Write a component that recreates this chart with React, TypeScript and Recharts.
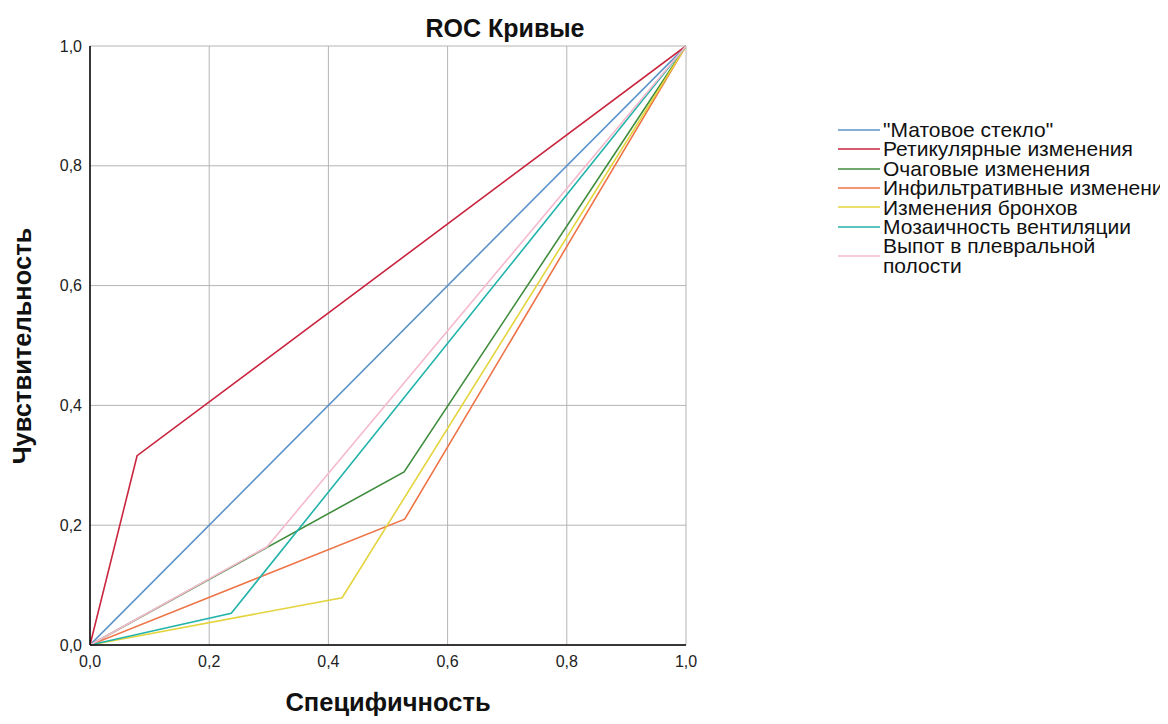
import React from 'react';
import { LineChart, Line, XAxis, YAxis, CartesianGrid, Legend } from 'recharts';

const seriesNames = [
  '"Матовое стекло"',
  'Ретикулярные изменения',
  'Очаговые изменения',
  'Инфильтративные изменения',
  'Изменения бронхов',
  'Мозаичность вентиляции',
  'Выпот в плевральной полости',
];

const seriesColors = ['#5b93c9', '#c9253f', '#3f8c3c', '#ee7346', '#e4d43c', '#22b3aa', '#f6b9cd'];

// ROC points: x = 1 - специфичность axis value, y = чувствительность
const matovoe = [{ x: 0, y: 0 }, { x: 1, y: 1 }];
const retikul = [{ x: 0, y: 0 }, { x: 0.079, y: 0.316 }, { x: 1, y: 1 }];
const ochag = [{ x: 0, y: 0 }, { x: 0.527, y: 0.289 }, { x: 1, y: 1 }];
const infiltr = [{ x: 0, y: 0 }, { x: 0.528, y: 0.21 }, { x: 1, y: 1 }];
const bronh = [{ x: 0, y: 0 }, { x: 0.423, y: 0.079 }, { x: 1, y: 1 }];
const mozaik = [{ x: 0, y: 0 }, { x: 0.237, y: 0.053 }, { x: 1, y: 1 }];
const vypot = [{ x: 0, y: 0 }, { x: 0.297, y: 0.164 }, { x: 1, y: 1 }];

const seriesData = [matovoe, retikul, ochag, infiltr, bronh, mozaik, vypot];

const ticks = [0, 0.2, 0.4, 0.6, 0.8, 1.0];
const fmt = (v: number) => v.toFixed(1).replace('.', ',');

const FONT = "Arial, 'Liberation Sans', sans-serif";

const LegendContent = () => (
  <div style={{ fontFamily: FONT, fontSize: 21, lineHeight: '19.4px', color: '#111' }}>
    {seriesNames.map((name, i) => {
      const wrap = i === seriesNames.length - 1;
      return (
        <div key={name} style={{ display: 'flex', alignItems: 'center' }}>
          <svg width={42} height={4} style={{ marginRight: 3, flex: 'none', display: 'block' }}>
            <line x1={0} y1={2} x2={42} y2={2} stroke={seriesColors[i]} strokeWidth={1.5} />
          </svg>
          <div style={{ whiteSpace: wrap ? 'normal' : 'nowrap', maxWidth: wrap ? 240 : undefined }}>{name}</div>
        </div>
      );
    })}
  </div>
);

export default function App() {
  return (
    <div style={{ position: 'relative', margin: -8, width: 1168, height: 724, overflow: 'hidden', background: '#fff' }}>
      <div style={{ position: 'absolute', left: 505, top: 14, transform: 'translateX(-50%)', fontFamily: FONT, fontWeight: 'bold', fontSize: 25, lineHeight: '28px', color: '#111', whiteSpace: 'nowrap' }}>
        ROC Кривые
      </div>
      <div style={{ position: 'absolute', left: 388, top: 688, transform: 'translateX(-50%)', fontFamily: FONT, fontWeight: 'bold', fontSize: 25.5, lineHeight: '29px', color: '#111', whiteSpace: 'nowrap', zIndex: 2 }}>
        Специфичность
      </div>
      <div style={{ position: 'absolute', left: 22, top: 346, transform: 'translate(-50%, -50%) rotate(-90deg)', fontFamily: FONT, fontWeight: 'bold', fontSize: 25.5, lineHeight: '29px', color: '#111', whiteSpace: 'nowrap' }}>
        Чувствительность
      </div>
      <LineChart width={1168} height={724} margin={{ top: 46, right: 482, bottom: 49, left: 40 }}>
        <CartesianGrid stroke="#b4b4b4" strokeWidth={1} />
        <XAxis
          type="number"
          dataKey="x"
          domain={[0, 1]}
          ticks={ticks}
          tickFormatter={fmt}
          height={30}
          tickLine={false}
          tickSize={6}
          tickMargin={5}
          axisLine={{ stroke: '#000', strokeWidth: 1.5 }}
          tick={{ fill: '#222', fontSize: 16, fontFamily: FONT }}
          allowDataOverflow
        />
        <YAxis
          type="number"
          domain={[0, 1]}
          ticks={ticks}
          tickFormatter={fmt}
          width={50}
          tickLine={false}
          tickSize={6}
          tickMargin={2}
          axisLine={{ stroke: '#000', strokeWidth: 1.5 }}
          tick={{ fill: '#222', fontSize: 16, fontFamily: FONT }}
        />
        <Legend
          layout="vertical"
          align="center"
          verticalAlign="middle"
          content={<LegendContent />}
          wrapperStyle={{ left: 838, top: 120, width: 340, height: 175 }}
        />
        {seriesData.map((d, i) => (
          <Line
            key={seriesNames[i]}
            data={d}
            dataKey="y"
            name={seriesNames[i]}
            type="linear"
            stroke={seriesColors[i]}
            strokeWidth={1.6}
            dot={false}
            activeDot={false}
            isAnimationActive={false}
          />
        ))}
      </LineChart>
    </div>
  );
}
